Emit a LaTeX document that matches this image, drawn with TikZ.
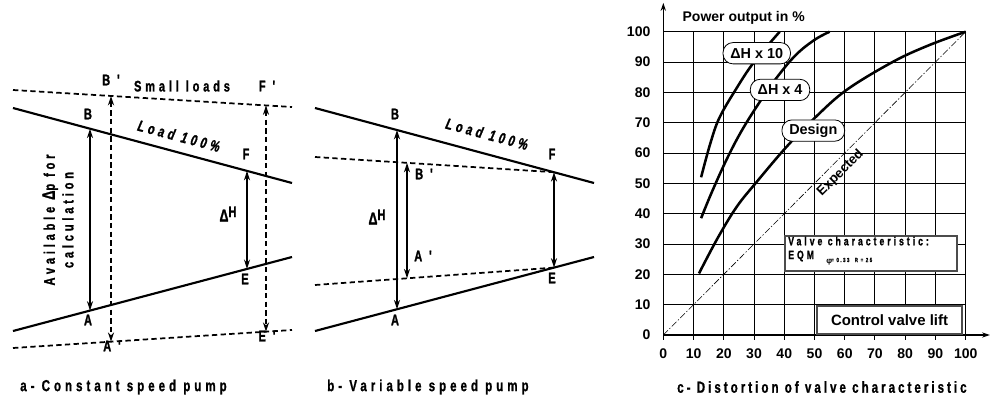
\documentclass[tikz,border=0pt]{standalone}
\usepackage{fontspec}
\setmainfont{Liberation Sans}
\newfontfamily\spc[FakeStretch=0.72,LetterSpace=25,FakeBold=1.2]{Liberation Sans}
\newfontfamily\spcc[FakeStretch=0.72,LetterSpace=25,FakeBold=1]{Liberation Sans}
\newfontfamily\spccc[FakeStretch=0.72,LetterSpace=19,FakeBold=1]{Liberation Sans}
\usetikzlibrary{arrows.meta}
\tikzset{
  sline/.style={line width=1.6pt},
  dline/.style={line width=1.3pt, dash pattern=on 4pt off 2.5pt},
  dimarr/.style={line width=1.3pt, {Stealth[length=7pt,width=4.5pt]}-{Stealth[length=7pt,width=4.5pt]}},
  lbl/.style={font=\fontsize{11.5}{14}\selectfont\spc\bfseries, inner sep=0pt},
  capt/.style={font=\fontsize{12}{14}\selectfont\spcc\bfseries, anchor=west, inner sep=0pt},
  gridl/.style={line width=0.75pt},
  axisl/.style={line width=0.8pt, -{Stealth[length=6pt,width=4pt]}},
  curve/.style={line width=1.9pt},
  ylab/.style={font=\fontsize{10.5}{12}\selectfont\bfseries, anchor=east, inner sep=0pt},
  xlab/.style={font=\fontsize{10.5}{12}\selectfont\bfseries, anchor=north, inner sep=0pt},
  rlab/.style={draw, fill=white, line width=0.6pt, rounded corners=7.5pt, minimum height=16pt, inner xsep=5.5pt, inner ysep=1pt, font=\fontsize{10.8}{12}\selectfont\bfseries},
  vbox/.style={draw=black!70, line width=1.1pt, fill=white, inner sep=0pt},
}
\begin{document}
\begin{tikzpicture}[x=0.75pt,y=-0.75pt]
\useasboundingbox (0,0) rectangle (992,396);

% ---------------- panel a ----------------
\coordinate (aL1s) at (13,108);  \coordinate (aL1e) at (292,183);
\coordinate (aD1s) at (13,90);   \coordinate (aD1e) at (292,107);
\coordinate (aL2s) at (13,331);  \coordinate (aL2e) at (292,257);
\coordinate (aD2s) at (13,348);  \coordinate (aD2e) at (292,330);
\coordinate (aB) at (90,128.7);  \coordinate (aA) at (90,310.6);
\coordinate (aBp) at (111,96);   \coordinate (aAp) at (111,341.7);
\coordinate (aF) at (247,170.9); \coordinate (aE) at (247,268.9);
\coordinate (aFp) at (266,105.4);\coordinate (aEp) at (266,331.7);

\draw[sline] (aL1s) -- (aL1e);
\draw[sline] (aL2s) -- (aL2e);
\draw[dline] (aD1s) -- (aD1e);
\draw[dline] (aD2s) -- (aD2e);
\draw[dimarr] (aB) -- (aA);
\draw[dimarr, dline] (aBp) -- (aAp);
\draw[dimarr] (aF) -- (aE);
\draw[dimarr, dline] (aFp) -- (aEp);

\node[lbl] (aBl) at (88,114) {B};
\node[lbl] (aAl) at (88,320) {A};
\node[lbl] (aBpl) at (111,80) {B '};
\node[lbl] (aApl) at (112,346) {A '};
\node[lbl] (aFl) at (246,154) {F};
\node[lbl] (aEl) at (245,279) {E};
\node[lbl] (aFpl) at (267,86) {F '};
\node[lbl] (aEpl) at (267,336) {E '};
\node[lbl] (asmall) at (182,86) {Small loads};
\node[lbl, rotate=-15, font=\fontsize{11.5}{14}\selectfont\spc\bfseries\itshape] (aload) at (179,136) {Load 100\%};
\node[lbl] (adh) at (228,214) {{\fontsize{13}{14}\selectfont Δ}\raisebox{0.55ex}{H}};
\node[lbl, rotate=90, align=center] (avail) at (58,220) {Available {\fontsize{13.5}{14}\selectfont Δ}p for\\calculation};
\node[capt] (acap) at (20,387) {a- Constant speed pump};

% ---------------- panel b ----------------
\coordinate (bL1s) at (315,108); \coordinate (bL1e) at (594,183);
\coordinate (bL2s) at (315,331); \coordinate (bL2e) at (594,257);
\coordinate (bD1s) at (315,157); \coordinate (bD2s) at (315,285);
\coordinate (bB) at (397,130);   \coordinate (bA) at (397,309.3);
\coordinate (bBp) at (407,162.9);\coordinate (bAp) at (407,278.3);
\coordinate (bF) at (554,172.2); \coordinate (bE) at (554,267.6);

\draw[sline] (bL1s) -- (bL1e);
\draw[sline] (bL2s) -- (bL2e);
\draw[dline] (bD1s) -- (bF);
\draw[dline] (bD2s) -- (bE);
\draw[dimarr] (bB) -- (bA);
\draw[dimarr] (bBp) -- (bAp);
\draw[dimarr] (bF) -- (bE);

\node[lbl] (bBl) at (395,114) {B};
\node[lbl] (bAl) at (395,320) {A};
\node[lbl] (bBpl) at (424,174) {B '};
\node[lbl] (bApl) at (423,256) {A '};
\node[lbl] (bFl) at (552,154) {F};
\node[lbl] (bEl) at (552,278) {E};
\node[lbl, rotate=-15, font=\fontsize{11.5}{14}\selectfont\spc\bfseries\itshape] (bload) at (487,134) {Load 100\%};
\node[lbl] (bdh) at (377,217) {{\fontsize{13}{14}\selectfont Δ}\raisebox{0.55ex}{H}};
\node[capt] (bcap) at (327,387) {b- Variable speed pump};

% ---------------- panel c ----------------
\begin{scope}[shift={(663.3,335)}, x=2.268pt, y=2.2748pt]
  \foreach \i in {10,20,...,100} \draw[gridl] (\i,-1.6) -- (\i,100);
  \foreach \j in {10,20,...,100} \draw[gridl] (0,\j) -- (100,\j);
  \draw[axisl] (0,-1.6) -- (0,109.5);
  \draw[axisl] (0,0) -- (108,0);
  \foreach \j in {0,10,...,100} \node[ylab] (yl\j) at (-4.2,\j) {\j};
  \foreach \i in {0,10,...,100} \node[xlab] (xl\i) at (\i,-4.6) {\i};
  \node[font=\fontsize{10.5}{12}\selectfont\bfseries, anchor=west, inner sep=0pt] (ptitle) at (6.3,104.5) {Power output in \%};
  \draw[line width=0.45pt, dash pattern=on 5pt off 1.5pt on 1pt off 1.5pt] (0,0) -- (100,100);
  \draw[curve] plot[smooth, tension=0.6] coordinates {(12.5,52) (15.5,63) (18.5,71.5) (24,81) (30,90) (38.5,100)};
  \draw[curve] plot[smooth, tension=0.6] coordinates {(12.5,38.5) (16,47) (21,58) (26,67.5) (32,77) (38,85.5) (44,92.5) (50,97.3) (55,100)};
  \draw[curve] plot[smooth, tension=0.6] coordinates {(11.8,20.3) (18,32) (24.3,42.3) (30.9,50.5) (40.8,62.1) (50,71.5) (60.6,80.8) (76,90.1) (88,95.6) (100,100)};
  \node[rlab] (r10) at (30.9,92.9) {ΔH x 10};
  \node[rlab] (r4) at (38.6,80.8) {ΔH x 4};
  \node[rlab] (rdes) at (49.6,67.4) {Design};
  \node[font=\fontsize{10}{12}\selectfont\bfseries, rotate=45, inner sep=0pt] (rexp) at (58.6,53.4) {Expected};
\end{scope}

\node[vbox, minimum width=129pt, minimum height=26pt] (valvebox) at (871,253.5) {};
\node[font=\fontsize{9}{10}\selectfont\spc\bfseries, anchor=west, inner sep=0pt] (vt1) at (788,241) {Valve characteristic:};
\node[font=\fontsize{9}{10}\selectfont\spc\bfseries, anchor=west, inner sep=0pt] (vt2) at (788,256) {EQM};
\node[font=\fontsize{6}{7}\selectfont\bfseries, anchor=west, inner sep=0pt] (vt3) at (826,262) {φ};
\node[font=\fontsize{4.5}{5}\selectfont\spc\bfseries, anchor=west, inner sep=0pt] (vt4) at (831,260) {= 0.33 \ R = 25};
\node[vbox, minimum width=108.75pt, minimum height=21pt, font=\fontsize{11.2}{13}\selectfont\bfseries] (cvl) at (889.5,320) {Control valve lift};
\node[capt, font=\fontsize{12}{14}\selectfont\spccc\bfseries] (ccap) at (677,387) {c- Distortion of valve characteristic};
\end{tikzpicture}
\end{document}
